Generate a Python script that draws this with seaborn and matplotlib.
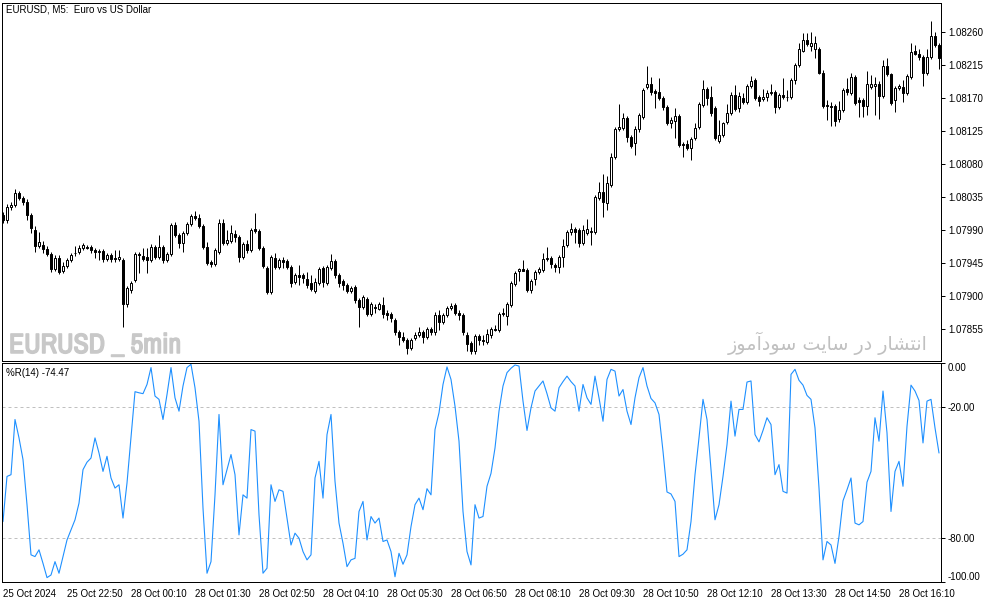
import numpy as np
import pandas as pd
import matplotlib
matplotlib.use("Agg")
import matplotlib.pyplot as plt
import matplotlib.patheffects as pe
from matplotlib import font_manager
import seaborn as sns

# EURUSD M5 candles, 25 Oct 21:30 -> 28 Oct 16:50
open_ = [
    1.08010, 1.08004, 1.08021, 1.08024, 1.08040, 1.08034, 1.08028, 1.08010, 1.07990, 1.07968,
    1.07969, 1.07964, 1.07957, 1.07937, 1.07952, 1.07934, 1.07941, 1.07949, 1.07959, 1.07960,
    1.07965, 1.07967, 1.07967, 1.07963, 1.07960, 1.07961, 1.07950, 1.07956, 1.07952, 1.07950,
    1.07949, 1.07889, 1.07908, 1.07922, 1.07957, 1.07954, 1.07953, 1.07949, 1.07967, 1.07953,
    1.07967, 1.07949, 1.07957, 1.07997, 1.07983, 1.07972, 1.07986, 1.07998, 1.08009, 1.08006,
    1.07995, 1.07967, 1.07946, 1.07944, 1.07960, 1.08000, 1.07972, 1.07975, 1.07984, 1.07980,
    1.07953, 1.07971, 1.07963, 1.07991, 1.07989, 1.07965, 1.07938, 1.07905, 1.07952, 1.07939,
    1.07949, 1.07948, 1.07939, 1.07919, 1.07929, 1.07929, 1.07923, 1.07918, 1.07907, 1.07918,
    1.07938, 1.07918, 1.07938, 1.07948, 1.07929, 1.07920, 1.07915, 1.07907, 1.07912, 1.07894,
    1.07885, 1.07896, 1.07875, 1.07885, 1.07882, 1.07888, 1.07877, 1.07875, 1.07867, 1.07851,
    1.07844, 1.07840, 1.07829, 1.07843, 1.07847, 1.07851, 1.07844, 1.07855, 1.07850, 1.07874,
    1.07864, 1.07874, 1.07884, 1.07888, 1.07877, 1.07874, 1.07847, 1.07836, 1.07824, 1.07845,
    1.07840, 1.07837, 1.07847, 1.07855, 1.07854, 1.07875, 1.07873, 1.07888, 1.07916, 1.07934,
    1.07937, 1.07935, 1.07908, 1.07923, 1.07933, 1.07935, 1.07950, 1.07952, 1.07942, 1.07939,
    1.07953, 1.07969, 1.07987, 1.07991, 1.07990, 1.07972, 1.07986, 1.07987, 1.07987, 1.08034,
    1.08042, 1.08027, 1.08051, 1.08090, 1.08128, 1.08129, 1.08143, 1.08117, 1.08109, 1.08128,
    1.08144, 1.08185, 1.08189, 1.08180, 1.08178, 1.08170, 1.08158, 1.08136, 1.08139, 1.08145,
    1.08107, 1.08107, 1.08102, 1.08115, 1.08130, 1.08160, 1.08182, 1.08171, 1.08156, 1.08111,
    1.08120, 1.08137, 1.08150, 1.08175, 1.08156, 1.08170, 1.08165, 1.08186, 1.08195, 1.08171,
    1.08169, 1.08171, 1.08177, 1.08178, 1.08158, 1.08175, 1.08171, 1.08171, 1.08195, 1.08215,
    1.08235, 1.08250, 1.08241, 1.08237, 1.08237, 1.08205, 1.08160, 1.08159, 1.08159, 1.08141,
    1.08154, 1.08182, 1.08177, 1.08199, 1.08167, 1.08167, 1.08159, 1.08185, 1.08186, 1.08190,
    1.08173, 1.08214, 1.08203, 1.08167, 1.08184, 1.08185, 1.08177, 1.08199, 1.08235, 1.08231,
    1.08226, 1.08204, 1.08226, 1.08255, 1.08242,
]
high = [
    1.08015, 1.08025, 1.08028, 1.08046, 1.08043, 1.08036, 1.08032, 1.08013, 1.07995, 1.07987,
    1.07975, 1.07968, 1.07960, 1.07956, 1.07956, 1.07946, 1.07952, 1.07959, 1.07968, 1.07969,
    1.07972, 1.07969, 1.07969, 1.07965, 1.07964, 1.07964, 1.07959, 1.07959, 1.07963, 1.07963,
    1.07952, 1.07914, 1.07920, 1.07960, 1.07960, 1.07965, 1.07965, 1.07971, 1.07969, 1.07983,
    1.07969, 1.07960, 1.08000, 1.08001, 1.07986, 1.07989, 1.08001, 1.08012, 1.08016, 1.08012,
    1.07998, 1.07974, 1.07949, 1.07965, 1.08005, 1.08005, 1.07990, 1.07997, 1.07990, 1.07983,
    1.07974, 1.07976, 1.07993, 1.08013, 1.07991, 1.07968, 1.07941, 1.07956, 1.07959, 1.07952,
    1.07953, 1.07950, 1.07942, 1.07931, 1.07942, 1.07931, 1.07933, 1.07929, 1.07924, 1.07939,
    1.07941, 1.07942, 1.07957, 1.07950, 1.07931, 1.07923, 1.07918, 1.07914, 1.07915, 1.07897,
    1.07901, 1.07899, 1.07892, 1.07889, 1.07892, 1.07899, 1.07881, 1.07878, 1.07870, 1.07854,
    1.07850, 1.07843, 1.07843, 1.07850, 1.07858, 1.07854, 1.07858, 1.07858, 1.07878, 1.07880,
    1.07877, 1.07886, 1.07890, 1.07890, 1.07880, 1.07877, 1.07850, 1.07839, 1.07848, 1.07848,
    1.07847, 1.07855, 1.07858, 1.07860, 1.07878, 1.07884, 1.07892, 1.07920, 1.07934, 1.07938,
    1.07949, 1.07938, 1.07923, 1.07935, 1.07939, 1.07959, 1.07967, 1.07954, 1.07945, 1.07956,
    1.07978, 1.07990, 1.08000, 1.07994, 1.07993, 1.07997, 1.08005, 1.07994, 1.08038, 1.08055,
    1.08066, 1.08064, 1.08095, 1.08130, 1.08162, 1.08150, 1.08145, 1.08120, 1.08132, 1.08150,
    1.08184, 1.08214, 1.08199, 1.08182, 1.08197, 1.08173, 1.08160, 1.08144, 1.08156, 1.08148,
    1.08110, 1.08113, 1.08117, 1.08136, 1.08165, 1.08195, 1.08185, 1.08186, 1.08159, 1.08140,
    1.08137, 1.08162, 1.08178, 1.08188, 1.08178, 1.08177, 1.08189, 1.08200, 1.08197, 1.08174,
    1.08182, 1.08181, 1.08190, 1.08181, 1.08177, 1.08197, 1.08181, 1.08197, 1.08218, 1.08246,
    1.08259, 1.08259, 1.08260, 1.08255, 1.08240, 1.08208, 1.08167, 1.08165, 1.08162, 1.08166,
    1.08184, 1.08197, 1.08204, 1.08201, 1.08171, 1.08170, 1.08207, 1.08201, 1.08199, 1.08193,
    1.08222, 1.08225, 1.08205, 1.08186, 1.08190, 1.08195, 1.08203, 1.08245, 1.08242, 1.08237,
    1.08229, 1.08237, 1.08276, 1.08260, 1.08246,
]
low = [
    1.08000, 1.08000, 1.08017, 1.08021, 1.08031, 1.08024, 1.08004, 1.07986, 1.07960, 1.07965,
    1.07959, 1.07954, 1.07933, 1.07934, 1.07930, 1.07931, 1.07938, 1.07946, 1.07954, 1.07957,
    1.07963, 1.07964, 1.07959, 1.07952, 1.07949, 1.07946, 1.07948, 1.07946, 1.07946, 1.07948,
    1.07858, 1.07885, 1.07904, 1.07919, 1.07931, 1.07948, 1.07931, 1.07946, 1.07950, 1.07950,
    1.07945, 1.07946, 1.07954, 1.07980, 1.07965, 1.07960, 1.07983, 1.07995, 1.08004, 1.07993,
    1.07964, 1.07942, 1.07939, 1.07941, 1.07957, 1.07969, 1.07969, 1.07972, 1.07974, 1.07946,
    1.07950, 1.07959, 1.07960, 1.07986, 1.07963, 1.07938, 1.07903, 1.07903, 1.07937, 1.07937,
    1.07938, 1.07937, 1.07912, 1.07916, 1.07915, 1.07918, 1.07911, 1.07907, 1.07904, 1.07915,
    1.07912, 1.07915, 1.07935, 1.07924, 1.07912, 1.07908, 1.07904, 1.07904, 1.07890, 1.07858,
    1.07882, 1.07873, 1.07873, 1.07877, 1.07880, 1.07870, 1.07867, 1.07864, 1.07847, 1.07833,
    1.07837, 1.07821, 1.07826, 1.07840, 1.07844, 1.07836, 1.07841, 1.07847, 1.07847, 1.07854,
    1.07862, 1.07871, 1.07881, 1.07874, 1.07867, 1.07847, 1.07824, 1.07820, 1.07821, 1.07833,
    1.07833, 1.07834, 1.07843, 1.07852, 1.07851, 1.07873, 1.07860, 1.07885, 1.07914, 1.07920,
    1.07934, 1.07905, 1.07904, 1.07915, 1.07930, 1.07933, 1.07948, 1.07938, 1.07933, 1.07931,
    1.07939, 1.07967, 1.07983, 1.07972, 1.07967, 1.07969, 1.07983, 1.07969, 1.07984, 1.08031,
    1.08008, 1.08017, 1.08049, 1.08087, 1.08125, 1.08126, 1.08110, 1.08102, 1.08092, 1.08124,
    1.08141, 1.08182, 1.08175, 1.08156, 1.08167, 1.08154, 1.08133, 1.08129, 1.08115, 1.08103,
    1.08090, 1.08099, 1.08085, 1.08113, 1.08128, 1.08158, 1.08160, 1.08145, 1.08113, 1.08109,
    1.08117, 1.08135, 1.08147, 1.08152, 1.08151, 1.08162, 1.08162, 1.08184, 1.08167, 1.08159,
    1.08166, 1.08166, 1.08174, 1.08150, 1.08155, 1.08169, 1.08166, 1.08169, 1.08190, 1.08212,
    1.08233, 1.08241, 1.08235, 1.08225, 1.08203, 1.08156, 1.08140, 1.08132, 1.08132, 1.08137,
    1.08151, 1.08174, 1.08174, 1.08160, 1.08144, 1.08144, 1.08147, 1.08182, 1.08147, 1.08141,
    1.08170, 1.08200, 1.08160, 1.08151, 1.08181, 1.08165, 1.08174, 1.08196, 1.08229, 1.08222,
    1.08186, 1.08201, 1.08223, 1.08240, 1.08210,
]
close = [
    1.08004, 1.08021, 1.08024, 1.08040, 1.08034, 1.08028, 1.08010, 1.07993, 1.07968, 1.07974,
    1.07964, 1.07957, 1.07937, 1.07952, 1.07933, 1.07941, 1.07949, 1.07956, 1.07958, 1.07965,
    1.07969, 1.07966, 1.07963, 1.07960, 1.07961, 1.07950, 1.07956, 1.07950, 1.07951, 1.07953,
    1.07889, 1.07911, 1.07918, 1.07957, 1.07956, 1.07950, 1.07949, 1.07967, 1.07953, 1.07967,
    1.07949, 1.07957, 1.07997, 1.07983, 1.07972, 1.07986, 1.07998, 1.08009, 1.08006, 1.07995,
    1.07967, 1.07945, 1.07944, 1.07963, 1.08000, 1.07972, 1.07976, 1.07986, 1.07980, 1.07953,
    1.07971, 1.07963, 1.07990, 1.07989, 1.07965, 1.07941, 1.07905, 1.07953, 1.07939, 1.07949,
    1.07946, 1.07939, 1.07918, 1.07929, 1.07926, 1.07924, 1.07915, 1.07909, 1.07919, 1.07937,
    1.07919, 1.07939, 1.07948, 1.07929, 1.07918, 1.07915, 1.07907, 1.07911, 1.07894, 1.07885,
    1.07899, 1.07875, 1.07889, 1.07884, 1.07889, 1.07875, 1.07874, 1.07870, 1.07850, 1.07844,
    1.07840, 1.07829, 1.07840, 1.07847, 1.07851, 1.07844, 1.07855, 1.07850, 1.07874, 1.07864,
    1.07874, 1.07884, 1.07886, 1.07877, 1.07874, 1.07850, 1.07834, 1.07825, 1.07845, 1.07840,
    1.07839, 1.07848, 1.07855, 1.07854, 1.07875, 1.07877, 1.07889, 1.07918, 1.07931, 1.07937,
    1.07934, 1.07908, 1.07920, 1.07933, 1.07937, 1.07950, 1.07952, 1.07944, 1.07939, 1.07953,
    1.07968, 1.07987, 1.07991, 1.07987, 1.07972, 1.07990, 1.07991, 1.07988, 1.08035, 1.08042,
    1.08028, 1.08054, 1.08090, 1.08128, 1.08130, 1.08143, 1.08117, 1.08105, 1.08128, 1.08147,
    1.08181, 1.08190, 1.08178, 1.08177, 1.08170, 1.08158, 1.08136, 1.08140, 1.08145, 1.08106,
    1.08106, 1.08102, 1.08114, 1.08129, 1.08162, 1.08182, 1.08170, 1.08150, 1.08115, 1.08120,
    1.08136, 1.08150, 1.08175, 1.08155, 1.08173, 1.08165, 1.08186, 1.08193, 1.08170, 1.08166,
    1.08171, 1.08177, 1.08178, 1.08158, 1.08174, 1.08171, 1.08172, 1.08195, 1.08215, 1.08237,
    1.08250, 1.08244, 1.08246, 1.08246, 1.08205, 1.08159, 1.08159, 1.08158, 1.08139, 1.08154,
    1.08181, 1.08178, 1.08199, 1.08163, 1.08165, 1.08159, 1.08189, 1.08190, 1.08190, 1.08173,
    1.08214, 1.08203, 1.08163, 1.08184, 1.08186, 1.08177, 1.08200, 1.08233, 1.08231, 1.08226,
    1.08204, 1.08226, 1.08255, 1.08242, 1.08225,
]

# Williams %R(14)
wpr = [
    -72.4, -51.8, -51.0, -25.8, -34.2, -44.1, -64.7, -87.6, -88.4, -85.3,
    -91.5, -98.0, -96.8, -90.7, -96.0, -88.4, -80.8, -76.2, -71.6, -64.0,
    -48.7, -45.3, -43.4, -34.2, -41.1, -49.5, -42.6, -52.5, -57.1, -55.6,
    -70.8, -54.8, -34.2, -13.1, -13.6, -14.0, -9.8, -2.1, -15.1, -16.6,
    -25.8, -14.4, -2.1, -15.9, -22.0, -10.5, -2.1, -0.6, -11.3, -26.6,
    -66.3, -96.0, -90.7, -60.2, -23.5, -55.6, -48.7, -41.8, -51.0, -78.5,
    -60.2, -61.7, -30.4, -31.1, -69.3, -96.0, -93.7, -55.6, -63.2, -57.9,
    -58.6, -70.8, -83.1, -77.7, -80.0, -86.1, -89.9, -87.6, -52.5, -44.9,
    -61.7, -32.7, -23.5, -54.0, -73.1, -82.3, -93.0, -89.9, -89.2, -67.8,
    -63.2, -80.8, -70.1, -73.1, -70.8, -81.5, -80.8, -86.1, -97.6, -86.9,
    -91.9, -87.6, -74.7, -64.7, -61.7, -67.0, -57.4, -60.2, -30.4, -22.7,
    -9.8, -1.8, -7.5, -19.7, -35.7, -67.8, -86.1, -92.2, -64.7, -70.8,
    -70.1, -56.3, -50.4, -38.8, -22.0, -10.5, -4.4, -2.4, -0.9, -1.4,
    -17.4, -30.8, -20.5, -12.8, -10.5, -8.2, -14.0, -20.5, -22.0, -11.3,
    -8.5, -6.0, -8.5, -10.5, -22.0, -9.8, -15.9, -18.9, -6.0, -15.9,
    -26.6, -7.5, -2.9, -3.7, -15.1, -12.1, -22.0, -28.1, -15.9, -6.7,
    -2.1, -10.5, -16.2, -18.2, -23.5, -40.3, -58.9, -59.8, -63.2, -88.4,
    -87.3, -85.3, -72.4, -51.0, -34.2, -16.6, -25.8, -48.7, -71.6, -64.7,
    -51.8, -37.3, -17.4, -33.4, -21.2, -21.2, -8.7, -8.2, -32.7, -36.0,
    -30.8, -25.0, -28.1, -51.0, -46.4, -58.6, -59.4, -5.2, -2.9, -7.9,
    -10.1, -14.8, -16.6, -29.6, -57.1, -89.9, -81.5, -83.1, -91.5, -79.2,
    -62.9, -57.9, -52.5, -73.1, -73.9, -72.4, -54.4, -49.5, -25.0, -35.7,
    -12.8, -31.9, -67.8, -49.5, -44.9, -56.3, -28.9, -10.1, -12.8, -17.1,
    -36.5, -17.4, -16.6, -29.6, -41.1,
]

time_labels = ["25 Oct 2024", "25 Oct 22:50", "28 Oct 00:10", "28 Oct 01:30",
               "28 Oct 02:50", "28 Oct 04:10", "28 Oct 05:30", "28 Oct 06:50",
               "28 Oct 08:10", "28 Oct 09:30", "28 Oct 10:50", "28 Oct 12:10",
               "28 Oct 13:30", "28 Oct 14:50", "28 Oct 16:10"]
price_ticks = [1.07855, 1.07900, 1.07945, 1.07990, 1.08035, 1.08080,
               1.08125, 1.08170, 1.08215, 1.08260]
wpr_ticks = [0, -20, -80, -100]

df = pd.DataFrame({"open": open_, "high": high, "low": low, "close": close,
                   "wpr": wpr})
df["bar"] = np.arange(len(df))

sns.set_theme(style="white")
plt.rcParams["font.family"] = ["Liberation Sans", "DejaVu Sans"]
plt.rcParams["axes.linewidth"] = 0.72

# a narrow bold face for the watermark, if one is around
names = sorted({f.name for f in font_manager.fontManager.ttflist})
narrow = [n for n in names if "Narrow" in n or "Condensed" in n]
if narrow:
    wm_family, wm_size = [narrow[0], "Liberation Sans"], 20
else:
    wm_family, wm_size = ["Liberation Sans", "DejaVu Sans"], 16.5

W, H = 994, 603
fig = plt.figure(figsize=(W / 100, H / 100), dpi=100)
ax1 = fig.add_axes([2 / W, 1 - 361 / H, 939 / W, 358 / H])
ax2 = fig.add_axes([2 / W, 1 - 582 / H, 939 / W, 219 / H])

for ax in (ax1, ax2):
    for s in ax.spines.values():
        s.set_color("black")
        s.set_linewidth(0.72)
    ax.set_xlim(-0.25, 234.5)

# candles
up = df["close"] >= df["open"]
ax1.vlines(df["bar"], df["low"], df["high"], color="black", linewidth=0.72, zorder=2)
ax1.bar(df["bar"], df["close"] - df["open"], bottom=df["open"], width=0.5,
        color=np.where(up, "white", "black"), edgecolor="black", linewidth=0.72, zorder=3)
ax1.set_ylim(1.07811, 1.08300)
ax1.set_xticks([])
ax1.yaxis.tick_right()
ax1.set_yticks(price_ticks)
ax1.set_yticklabels([f"{v:.5f}" for v in price_ticks])
ax1.tick_params(axis="y", direction="out", length=3, width=0.72, labelsize=7, pad=2,
                colors="black")

ax1.text(4 / 939, 1 - 7 / 358, "EURUSD, M5:  Euro vs US Dollar", transform=ax1.transAxes,
         fontsize=7, va="center", ha="left", color="black")
wm = ax1.text(7 / 939, 1 - 350 / 358, "EURUSD _ 5min", transform=ax1.transAxes,
              fontsize=wm_size, fontweight="bold", color="#c8c8c8", ha="left",
              va="baseline", family=wm_family)
wm.set_path_effects([pe.withStroke(linewidth=1.1, foreground="#c8c8c8")])
# Persian caption, written in presentation forms / visual order
fa = "\ufeaf\ufeee\ufee3\ufe81\ufea9\ufeee\ufeb3 \ufe96\ufef3\ufe8e\ufeb3 \ufead\ufea9 \ufead\ufe8e\ufeb8\ufe98\ufee7\ufe8d"
ax1.text(926 / 939, 1 - 347 / 358, fa, transform=ax1.transAxes, fontsize=13.8,
         color="#c0c0c0", ha="right", va="baseline", family=["DejaVu Sans"])

# Williams %R
sns.lineplot(data=df, x="bar", y="wpr", ax=ax2, color="#1e90ff", linewidth=0.8)
for lvl in (-20, -80):
    ax2.axhline(lvl, color="#c0c0c0", linewidth=0.72, linestyle=(0, (3, 3)), zorder=0)
ax2.set_ylim(-100, 0)
ax2.set_xlabel("")
ax2.set_ylabel("")
ax2.yaxis.tick_right()
ax2.set_yticks(wpr_ticks)
ax2.set_yticklabels([f"{v:.2f}" for v in wpr_ticks])
ax2.tick_params(axis="y", direction="out", length=3, width=0.72, labelsize=7, pad=2,
                colors="black")
ylabs = ax2.get_yticklabels()
ylabs[0].set_va("top")
ylabs[-1].set_va("bottom")
ax2.set_xticks(np.arange(0, 16 * len(time_labels), 16))
ax2.set_xticklabels(time_labels, ha="left")
ax2.tick_params(axis="x", direction="out", length=4, width=0.72, labelsize=7, pad=1,
                colors="black")
ax2.text(4 / 939, 1 - 10 / 219, "%R(14) -74.47", transform=ax2.transAxes,
         fontsize=7, va="center", ha="left", color="black")

fig.savefig("out.png", dpi=100, facecolor="white")
